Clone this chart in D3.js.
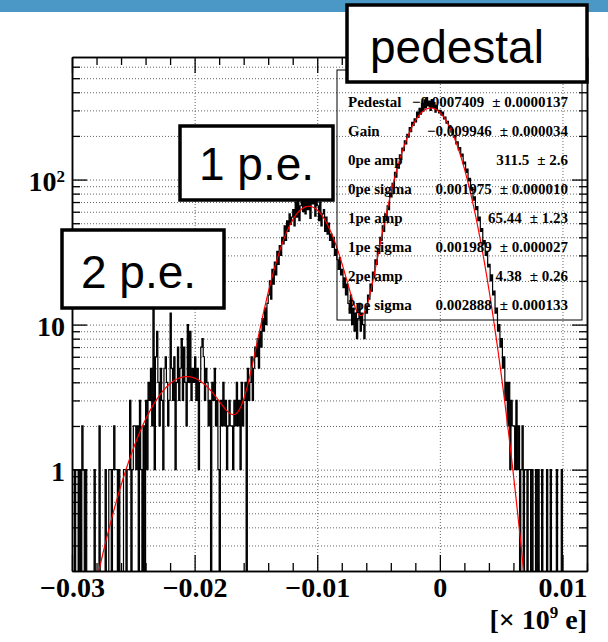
<!DOCTYPE html>
<html>
<head>
<meta charset="utf-8">
<script src="https://cdn.jsdelivr.net/npm/d3@7"></script>
<style>
body { margin: 0; background: #fff; }
svg { display: block; }
.serif { font-family: "Liberation Serif", "DejaVu Serif", serif; font-weight: bold; }
.sans { font-family: "Liberation Sans", Arial, sans-serif; }
</style>
</head>
<body>
<div id="chart"></div>
<script>
// histogram binning and contents
var xMin = -0.03, xMax = 0.012, binWidth = 0.0001;
var counts = [
  1,1,0,1,1,0,1,0,2,1,
  0,1,0,0,0,0,0,0,1,0,
  0,0,2,0,0,0,0,1,0,0,
  1,1,0,1,2,1,1,0,1,0,
  0,0,1,1,0,1,1,3,0,1,
  2,2,1,2,0,3,1,0,2,0,
  3,1,4,3,5,2,14,1,6,9,
  4,2,5,3,1,5,6,4,2,3,
  12,5,3,6,1,4,7,3,5,8,
  3,7,4,2,10,4,9,3,5,4,
  6,3,5,1,4,7,8,6,3,5,
  4,2,3,0,4,3,5,2,3,1,
  0,3,2,4,2,3,1,2,3,2,
  2,1,3,2,4,2,3,1,4,2,
  3,4,0,5,3,4,6,3,5,7,
  6,8,5,9,7,11,9,13,10,14,
  16,20,15,24,19,27,22,32,26,35,
  30,40,36,48,38,52,44,58,49,55,
  62,48,70,55,78,52,66,84,60,72,
  58,88,62,76,54,82,68,90,56,74,
  66,52,70,48,58,62,44,55,42,50,
  38,42,34,40,30,33,28,24,29,22,
  24,18,21,16,19,14,12,16,10,13,
  9,12,8,11,14,9,12,10,8,13,
  12,16,15,19,17,23,21,28,26,33,
  31,40,38,48,44,58,52,66,62,80,
  76,94,88,112,104,128,120,148,138,165,
  158,185,176,205,196,228,214,248,236,262,
  250,292,268,310,282,335,296,355,312,368,
  322,348,300,356,315,340,292,325,300,288,
  300,278,292,262,270,245,252,228,236,212,
  220,196,202,176,182,160,166,145,150,128,
  132,112,118,98,102,84,88,72,76,62,
  65,52,55,44,46,36,38,30,32,25,
  26,20,22,16,17,12,13,9,10,7,
  8,5,6,3,4,2,4,1,3,2,
  2,1,3,1,2,0,1,2,0,1,
  1,0,1,1,0,1,0,0,1,0,
  1,0,0,1,0,0,0,1,0,0,
  1,0,0,0,0,1,0,0,0,1,
  0,0,0,0,0,0,0,0,0,0,
  0,0,0,0,0,0,0,0,0,0
];

// fit results shown in the stats box
var parNames = ["Pedestal", "Gain", "0pe amp", "0pe sigma", "1pe amp", "1pe sigma", "2pe amp", "2pe sigma"];
var parValues = [-0.0007409, -0.009946, 311.5, 0.001975, 65.44, 0.001989, 4.38, 0.002888];
var parValueText = ["\u22120.0007409", "\u22120.009946", "311.5", "0.001975", "65.44", "0.001989", "4.38", "0.002888"];
var parErrorText = ["0.0000137", "0.000034", "2.6", "0.000010", "1.23", "0.000027", "0.26", "0.000133"];

// axis ticks
var xMajor = [-0.03, -0.02, -0.01, 0, 0.01];
var xMajorLabels = ["\u22120.03", "\u22120.02", "\u22120.01", "0", "0.01"];
var xMinor = [-0.028, -0.026, -0.024, -0.022, -0.018, -0.016, -0.014, -0.012, -0.008, -0.006, -0.004, -0.002, 0.002, 0.004, 0.006, 0.008, 0.012];
var yMajor = [1, 10, 100];
var yMinor = [0.3, 0.4, 0.5, 0.6, 0.7, 0.8, 0.9, 2, 3, 4, 5, 6, 7, 8, 9, 20, 30, 40, 50, 60, 70, 80, 90, 200, 300, 400, 500, 600];

// peak labels
var peakLabels = ["pedestal", "1 p.e.", "2 p.e."];

var W = 608, H = 642;
var frame = {left: 72, top: 57, right: 587, bottom: 571};
var fw = frame.right - frame.left, fh = frame.bottom - frame.top;

var x = d3.scaleLinear().domain([xMin, xMax]).range([frame.left, frame.right]);
var y = d3.scaleLog().domain([0.2, 700]).range([frame.bottom, frame.top]);

var svg = d3.select("#chart").append("svg")
    .attr("width", W)
    .attr("height", H);

// blue band on top of the slide
svg.append("rect").attr("x", 0).attr("y", 0).attr("width", W).attr("height", 12).attr("fill", "#4b97c5");

svg.append("clipPath").attr("id", "clip")
  .append("rect").attr("x", frame.left).attr("y", frame.top).attr("width", fw).attr("height", fh);

// grid (dotted)
var gridY = svg.append("g")
    .attr("transform", "translate(" + frame.left + ",0)")
    .call(d3.axisLeft(y).tickValues(yMajor.concat(yMinor)).tickSize(-fw).tickFormat(""));
var gridX = svg.append("g")
    .attr("transform", "translate(0," + frame.bottom + ")")
    .call(d3.axisBottom(x).tickValues(xMajor).tickSize(-fh).tickFormat(""));
[gridY, gridX].forEach(function(g) {
  g.select(".domain").remove();
  g.selectAll("line").attr("stroke", "#666").attr("stroke-width", 1).attr("stroke-dasharray", "1,2");
});

// histogram as a step line
var pts = [];
counts.forEach(function(c, i) {
  var x0 = x(xMin + i * binWidth), x1 = x(xMin + (i + 1) * binWidth);
  var yy = c > 0 ? y(c) : frame.bottom + 5;
  pts.push([x0, yy], [x1, yy]);
});
svg.append("path")
    .attr("clip-path", "url(#clip)")
    .attr("d", d3.line()(pts))
    .attr("fill", "none")
    .attr("stroke", "#000")
    .attr("stroke-width", 1.2);

// fit function: pedestal + 1 p.e. + 2 p.e. gaussians
function fitFunc(v) {
  var p = parValues;
  var s = 0;
  for (var k = 0; k < 3; k++) {
    var mu = p[0] + k * p[1], a = p[2 + 2 * k], sg = p[3 + 2 * k];
    s += a * Math.exp(-0.5 * Math.pow((v - mu) / sg, 2));
  }
  return s;
}
var fitPts = d3.range(0, 1001).map(function(i) {
  var v = xMin + (xMax - xMin) * i / 1000;
  var f = Math.max(fitFunc(v), 0.05);
  return [x(v), y(f)];
});
svg.append("path")
    .attr("clip-path", "url(#clip)")
    .attr("d", d3.line()(fitPts))
    .attr("fill", "none")
    .attr("stroke", "#ff0000")
    .attr("stroke-width", 1.2);

// axes with inward ticks
function styleAxis(g) {
  g.selectAll("line").attr("stroke", "#000").attr("stroke-width", 1.3);
  g.select(".domain").attr("stroke", "#000").attr("stroke-width", 1.5);
}
var xAxis = svg.append("g")
    .attr("transform", "translate(0," + frame.bottom + ")")
    .call(d3.axisBottom(x).tickValues(xMajor).tickSize(-16).tickSizeOuter(0).tickPadding(6)
      .tickFormat(function(d, i) { return xMajorLabels[i]; }));
styleAxis(xAxis);
xAxis.selectAll("text").attr("class", "serif").style("font-size", "28px").attr("fill", "#000");
svg.append("g")
    .attr("transform", "translate(0," + frame.bottom + ")")
    .call(d3.axisBottom(x).tickValues(xMinor).tickSize(-8).tickSizeOuter(0).tickFormat(""))
    .call(styleAxis);
svg.append("g")
    .attr("transform", "translate(0," + frame.top + ")")
    .call(d3.axisTop(x).tickValues(xMajor).tickSize(-16).tickSizeOuter(0).tickFormat(""))
    .call(styleAxis);
svg.append("g")
    .attr("transform", "translate(0," + frame.top + ")")
    .call(d3.axisTop(x).tickValues(xMinor).tickSize(-8).tickSizeOuter(0).tickFormat(""))
    .call(styleAxis);

var yAxis = svg.append("g")
    .attr("transform", "translate(" + frame.left + ",0)")
    .call(d3.axisLeft(y).tickValues(yMajor).tickSize(-15).tickSizeOuter(0).tickPadding(7)
      .tickFormat(function(d) { return d === 100 ? "10" : String(d); }));
styleAxis(yAxis);
yAxis.selectAll("text").attr("class", "serif").attr("dy", "0.38em").style("font-size", "28px").attr("fill", "#000");
yAxis.selectAll("text").filter(function(d) { return d === 100; })
  .append("tspan").attr("dy", "-0.5em").style("font-size", "17px").text("2");
svg.append("g")
    .attr("transform", "translate(" + frame.left + ",0)")
    .call(d3.axisLeft(y).tickValues(yMinor).tickSize(-8).tickSizeOuter(0).tickFormat(""))
    .call(styleAxis);
svg.append("g")
    .attr("transform", "translate(" + frame.right + ",0)")
    .call(d3.axisRight(y).tickValues(yMajor).tickSize(-15).tickSizeOuter(0).tickFormat(""))
    .call(styleAxis);
svg.append("g")
    .attr("transform", "translate(" + frame.right + ",0)")
    .call(d3.axisRight(y).tickValues(yMinor).tickSize(-8).tickSizeOuter(0).tickFormat(""))
    .call(styleAxis);

// axis title
var title = svg.append("text").attr("class", "serif")
    .attr("x", frame.right).attr("y", 629).attr("text-anchor", "end")
    .style("font-size", "28px");
title.append("tspan").text("[\u00d7 10");
title.append("tspan").attr("dy", -11).style("font-size", "17px").text("9");
title.append("tspan").attr("dy", 11).text(" e]");

// stats box (transparent)
var stats = svg.append("g");
stats.append("rect")
    .attr("x", 337).attr("y", 70).attr("width", 245).attr("height", 250)
    .attr("fill", "none").attr("stroke", "#000").attr("stroke-width", 1);
parNames.forEach(function(n, i) {
  var yy = 107 + i * 29;
  stats.append("text").attr("class", "serif").attr("x", 348).attr("y", yy)
      .style("font-size", "15px").text(n);
  var err = stats.append("text").attr("class", "serif").attr("x", 568).attr("y", yy)
      .attr("text-anchor", "end").style("font-size", "15px").text("\u00b1 " + parErrorText[i]);
  var ew = err.node().getComputedTextLength();
  stats.append("text").attr("class", "serif").attr("x", 568 - ew - 8).attr("y", yy)
      .attr("text-anchor", "end").style("font-size", "15px").text(parValueText[i]);
});

// peak label boxes
var boxes = [
  {x: 347, y: 5, w: 240, h: 77, tx: 370, ty: 63},
  {x: 180, y: 126, w: 153, h: 74, tx: 199, ty: 180},
  {x: 62, y: 230, w: 162, h: 78, tx: 81, ty: 288}
];
peakLabels.forEach(function(t, i) {
  var b = boxes[i];
  svg.append("rect").attr("x", b.x).attr("y", b.y).attr("width", b.w).attr("height", b.h)
      .attr("fill", "#fff").attr("stroke", "#000").attr("stroke-width", 3.5);
  svg.append("text").attr("class", "sans").attr("x", b.tx).attr("y", b.ty)
      .style("font-size", "46px").text(t);
});
</script>
</body>
</html>
